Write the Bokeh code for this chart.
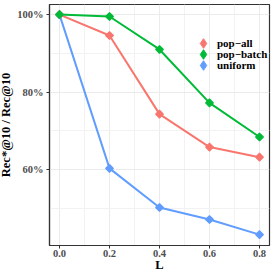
from bokeh.plotting import figure
from bokeh.models import FixedTicker, Legend, LegendItem, Range1d
from bokeh.embed import file_html
from bokeh.resources import INLINE
import math

L = [0.0, 0.2, 0.4, 0.6, 0.8]
pop_all = [100.0, 94.6, 74.3, 65.8, 63.2]
pop_batch = [100.0, 99.5, 91.0, 77.2, 68.4]
uniform = [100.0, 60.3, 50.2, 47.1, 43.2]
series_names = ["pop\u2212all", "pop\u2212batch", "uniform"]
colors = ["#F8766D", "#00BA38", "#619CFF"]
x_ticks = [0.0, 0.2, 0.4, 0.6, 0.8]
x_tick_labels = ["0.0", "0.2", "0.4", "0.6", "0.8"]
y_ticks = [60, 80, 100]
y_tick_labels = ["60%", "80%", "100%"]

FONT = "Liberation Serif"

p = figure(frame_width=220, frame_height=241, output_backend="svg", toolbar_location=None,
           x_range=Range1d(-0.04, 0.84), y_range=Range1d(40.4, 102.6),
           min_border_left=46, min_border_right=4, min_border_top=0, min_border_bottom=0,
           margin=(4, 0, -8, -4))

p.background_fill_color = "white"
p.border_fill_color = "white"
p.outline_line_color = "#333333"
p.outline_line_width = 1.2

p.xaxis.ticker = FixedTicker(ticks=x_ticks, minor_ticks=[0.1, 0.3, 0.5, 0.7])
p.yaxis.ticker = FixedTicker(ticks=y_ticks, minor_ticks=[50, 70, 90])
p.xaxis.major_label_overrides = {t: s for t, s in zip(x_ticks, x_tick_labels)}
p.yaxis.major_label_overrides = {t: s for t, s in zip(y_ticks, y_tick_labels)}

for ax in [p.xaxis[0], p.yaxis[0]]:
    ax.axis_line_color = "#333333"
    ax.axis_line_width = 1.2
    ax.major_tick_line_color = "#333333"
    ax.major_tick_out = 3
    ax.major_tick_in = 0
    ax.minor_tick_line_color = None
    ax.major_label_text_font = FONT
    ax.major_label_text_font_style = "bold"
    ax.major_label_text_font_size = "10.5px"
    ax.major_label_text_color = "#4D4D4D"
    ax.axis_label_text_font = FONT
    ax.axis_label_text_font_style = "bold"
    ax.axis_label_text_font_size = "12.5px"
    ax.axis_label_text_color = "black"

p.xaxis.axis_label = "L"
p.yaxis.axis_label = "Rec*@10 / Rec@10"
p.xaxis.major_label_standoff = 0
p.yaxis.major_label_standoff = 2
p.xaxis.axis_label_standoff = -2
p.yaxis.axis_label_standoff = 1

p.xgrid.grid_line_color = "#EBEBEB"
p.ygrid.grid_line_color = "#EBEBEB"
p.xgrid.minor_grid_line_color = "#F2F2F2"
p.ygrid.minor_grid_line_color = "#F2F2F2"
p.xgrid.grid_line_width = 1
p.ygrid.grid_line_width = 1

data = [pop_all, pop_batch, uniform]
order = [2, 0, 1]
for i in order:
    p.line(L, data[i], line_color=colors[i], line_width=2)
for i in order:
    p.scatter(L, data[i], marker="square", angle=math.pi / 4, size=5.5,
              fill_color=colors[i], line_color=colors[i], line_width=1.2)

# legend keys (a single undrawn NaN point each, used only for the legend glyph)
legend_y = [190, 179, 168]
for i in range(3):
    key = p.scatter(x=[float("nan")], y=[float("nan")], marker="diamond",
                    fill_color=colors[i], line_color=colors[i], line_width=1)
    lg = Legend(items=[LegendItem(label=series_names[i], renderers=[key])],
                location=(142, legend_y[i]), border_line_color=None,
                background_fill_alpha=0, padding=0, margin=0, spacing=0,
                label_height=24, glyph_height=24, glyph_width=24, label_standoff=2,
                label_text_font=FONT, label_text_font_style="bold",
                label_text_font_size="11px", label_text_color="black")
    p.add_layout(lg, "center")

open("out.html", "w").write(file_html(p, INLINE))
